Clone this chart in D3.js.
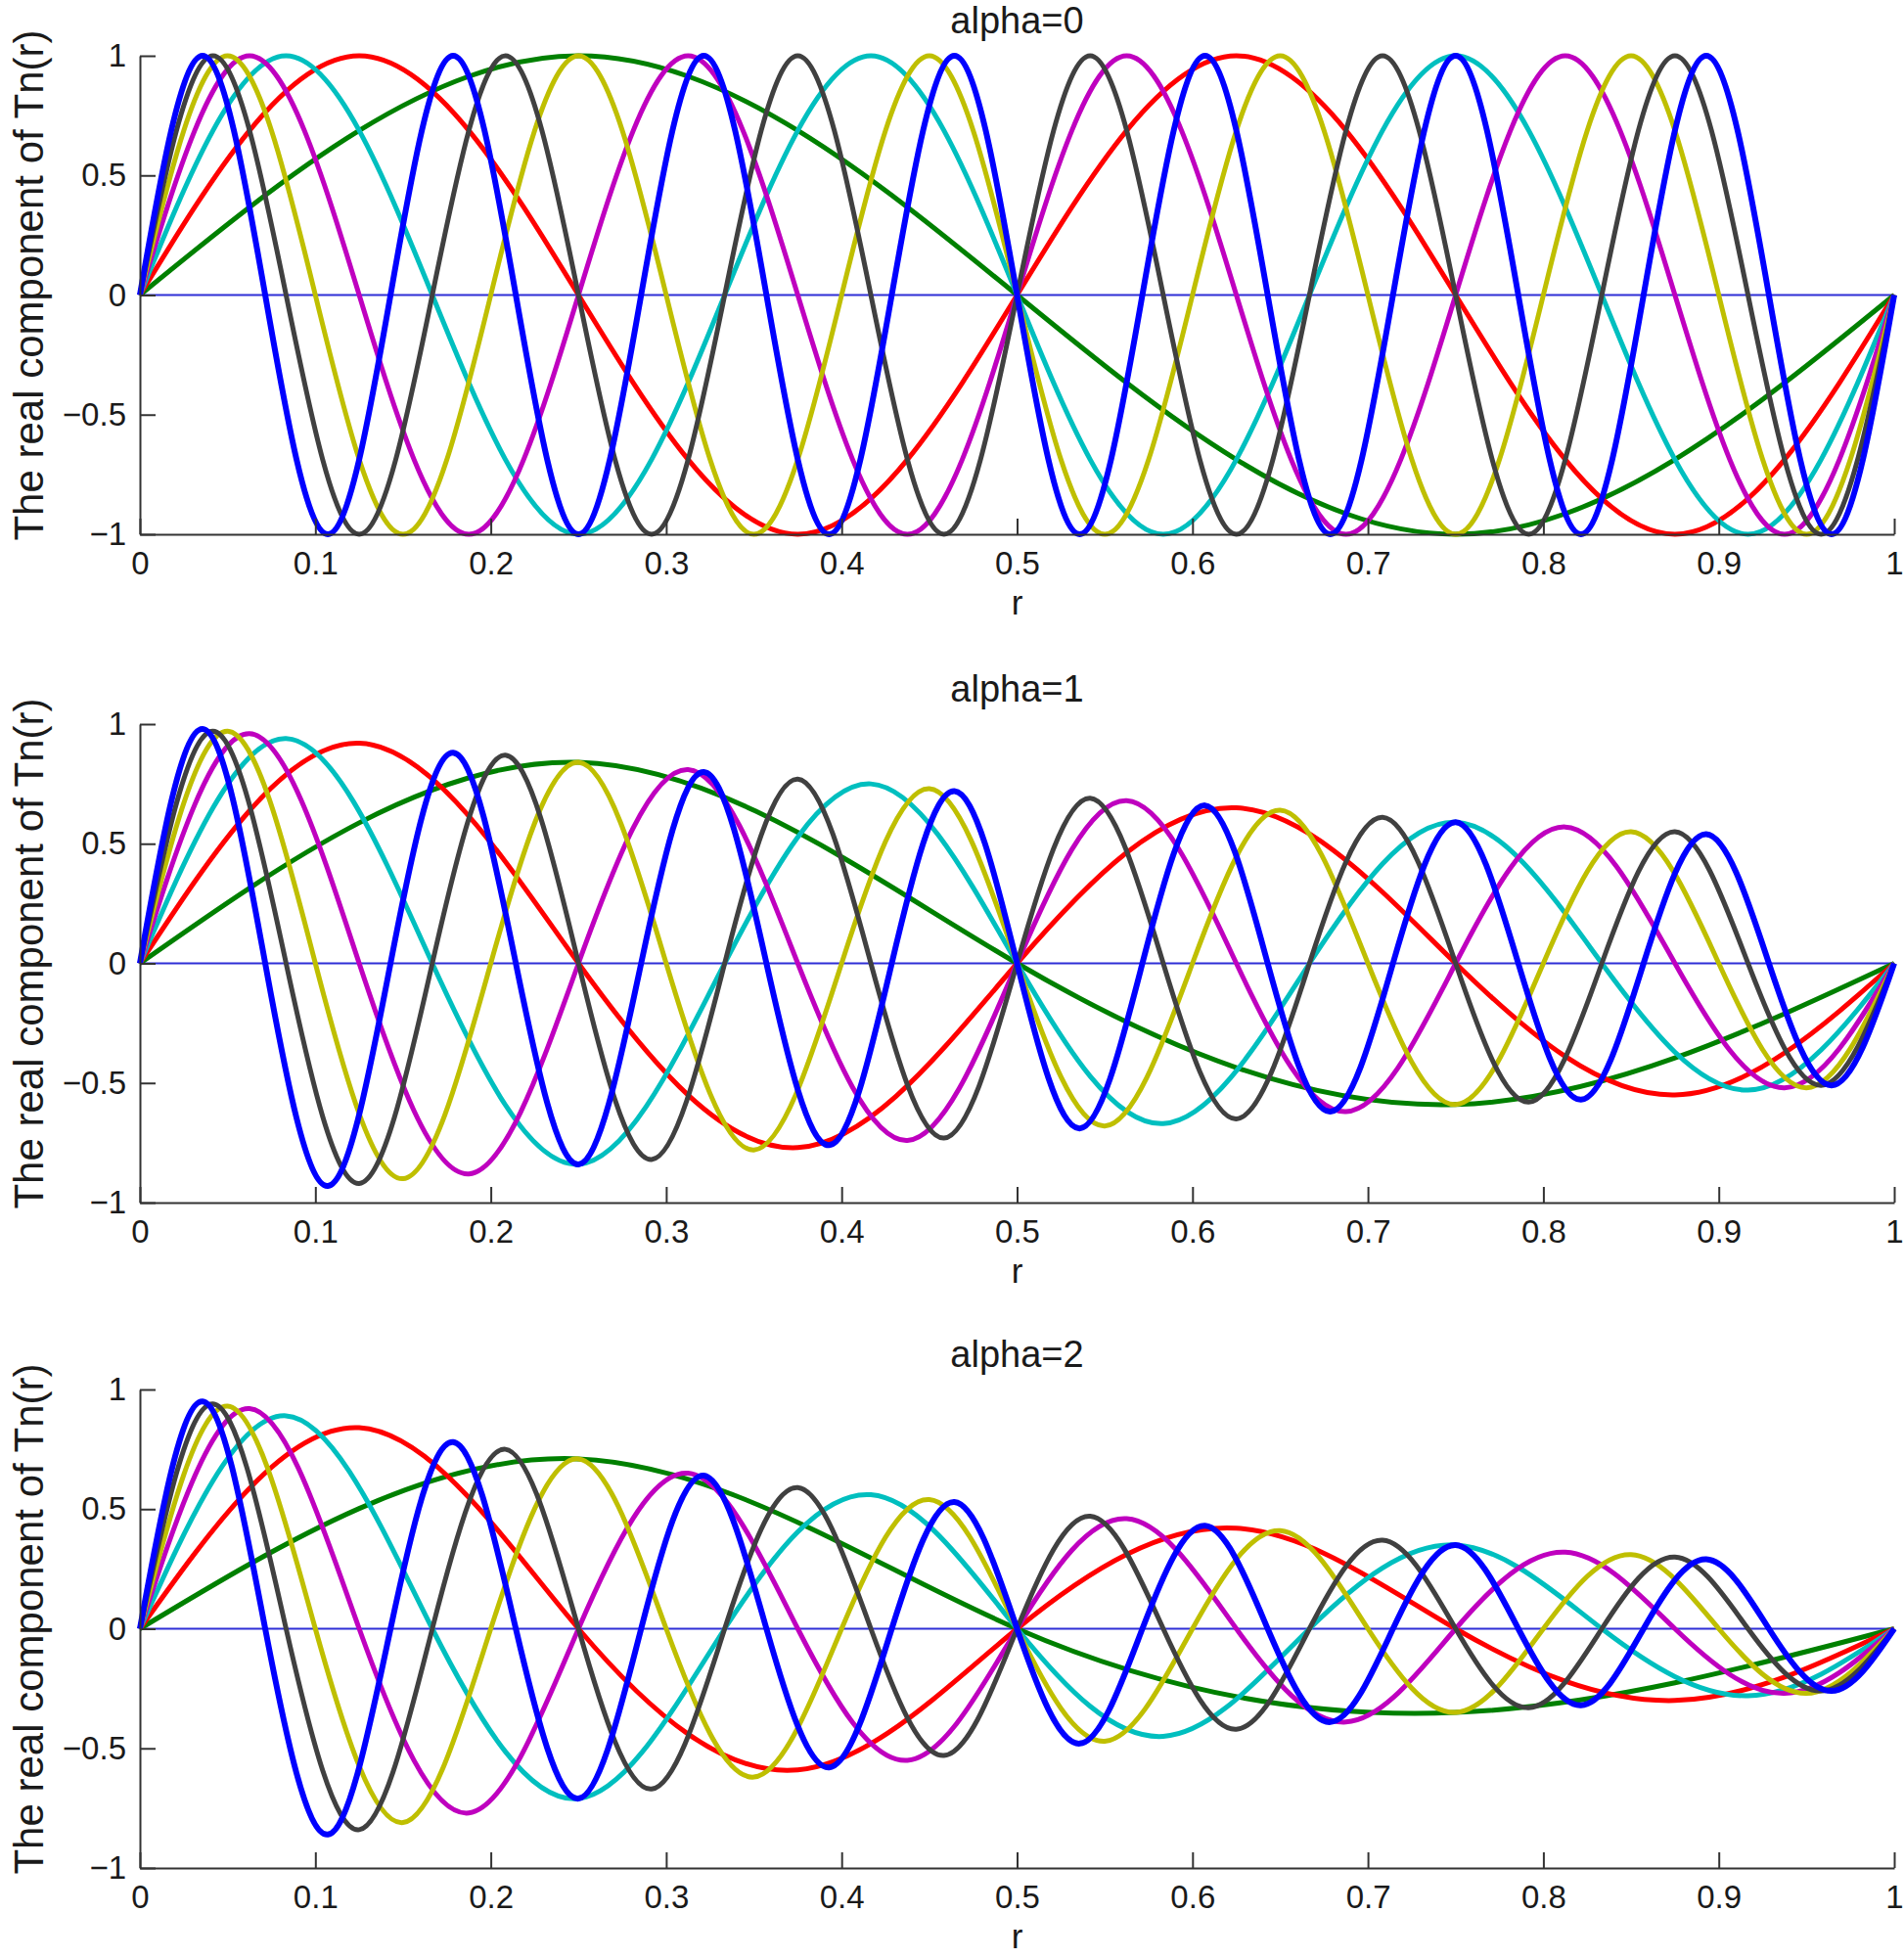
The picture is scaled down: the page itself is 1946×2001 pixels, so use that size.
<!DOCTYPE html>
<html>
<head>
<meta charset="utf-8">
<script src="https://cdn.jsdelivr.net/npm/d3@7"></script>
<style>
  body { margin: 0; background: #fff; }
</style>
</head>
<body>
<div id="chart"></div>
<script>
// titles and ticks
var panelTitles = ["alpha=0", "alpha=1", "alpha=2"];
var xTicks = [0, 0.1, 0.2, 0.3, 0.4, 0.5, 0.6, 0.7, 0.8, 0.9, 1];
var yTicks = [-1, -0.5, 0, 0.5, 1];

// Re{Tn(r)} read at the zero crossings and extrema of each curve,
// i.e. evenly spaced samples r = k/(4n), k = 0..4n
var zeroLine = [0, 0]; // n = 0

// alpha = 0
var a0n1 = [0, 1, 0, -1, 0];
var a0n2 = [0, 1, 0, -1, 0, 1, 0, -1, 0];
var a0n3 = [0, 1, 0, -1, 0, 1, 0, -1, 0, 1, 0, -1, 0];
var a0n4 = [0, 1, 0, -1, 0, 1, 0, -1, 0, 1, 0, -1, 0, 1, 0, -1, 0];
var a0n5 = [0, 1, 0, -1, 0, 1, 0, -1, 0, 1, 0, -1, 0, 1, 0, -1, 0, 1, 0, -1, 0];
var a0n6 = [0, 1, 0, -1, 0, 1, 0, -1, 0, 1, 0, -1, 0, 1, 0, -1, 0, 1, 0, -1, 0, 1, 0, -1, 0];
var a0n7 = [0, 1, 0, -1, 0, 1, 0, -1, 0, 1, 0, -1, 0, 1, 0, -1, 0, 1, 0, -1, 0, 1, 0, -1, 0, 1, 0, -1, 0];

// alpha = 1
var a1n1 = [0, 0.84, 0, -0.59, 0];
var a1n2 = [0, 0.92, 0, -0.77, 0, 0.65, 0, -0.55, 0];
var a1n3 = [0, 0.94, 0, -0.84, 0, 0.75, 0, -0.67, 0, 0.59, 0, -0.53, 0];
var a1n4 = [0, 0.96, 0, -0.88, 0, 0.81, 0, -0.74, 0, 0.68, 0, -0.62, 0, 0.57, 0, -0.52, 0];
var a1n5 = [0, 0.97, 0, -0.9, 0, 0.84, 0, -0.78, 0, 0.73, 0, -0.68, 0, 0.64, 0, -0.59, 0, 0.55, 0, -0.52, 0];
var a1n6 = [0, 0.97, 0, -0.92, 0, 0.87, 0, -0.82, 0, 0.77, 0, -0.73, 0, 0.69, 0, -0.65, 0, 0.61, 0, -0.58, 0, 0.55, 0, -0.51, 0];
var a1n7 = [0, 0.98, 0, -0.93, 0, 0.88, 0, -0.84, 0, 0.8, 0, -0.76, 0, 0.72, 0, -0.69, 0, 0.66, 0, -0.62, 0, 0.59, 0, -0.57, 0, 0.54, 0, -0.51, 0];

// alpha = 2
var a2n1 = [0, 0.71, 0, -0.35, 0];
var a2n2 = [0, 0.84, 0, -0.59, 0, 0.42, 0, -0.3, 0];
var a2n3 = [0, 0.89, 0, -0.71, 0, 0.56, 0, -0.45, 0, 0.35, 0, -0.28, 0];
var a2n4 = [0, 0.92, 0, -0.77, 0, 0.65, 0, -0.55, 0, 0.46, 0, -0.39, 0, 0.32, 0, -0.27, 0];
var a2n5 = [0, 0.93, 0, -0.81, 0, 0.71, 0, -0.62, 0, 0.54, 0, -0.47, 0, 0.41, 0, -0.35, 0, 0.31, 0, -0.27, 0];
var a2n6 = [0, 0.94, 0, -0.84, 0, 0.75, 0, -0.67, 0, 0.59, 0, -0.53, 0, 0.47, 0, -0.42, 0, 0.37, 0, -0.33, 0, 0.3, 0, -0.26, 0];
var a2n7 = [0, 0.95, 0, -0.86, 0, 0.78, 0, -0.71, 0, 0.64, 0, -0.58, 0, 0.53, 0, -0.48, 0, 0.43, 0, -0.39, 0, 0.35, 0, -0.32, 0, 0.29, 0, -0.26, 0];

var panels = [
  [a0n1, a0n2, a0n3, a0n4, a0n5, a0n6, a0n7],
  [a1n1, a1n2, a1n3, a1n4, a1n5, a1n6, a1n7],
  [a2n1, a2n2, a2n3, a2n4, a2n5, a2n6, a2n7]
];

// layout and styles
var W = 1946, H = 2001;
var xLeft = 143, xRight = 1936;
var panelTop = [57, 740, 1420], panelH = 489;
var lineColors = ["#008000", "#ff0000", "#00bfbf", "#bf00bf", "#bfbf00", "#404040", "#0000ff"];
var fontFam = "'Liberation Sans', Arial, Helvetica, sans-serif";
var axisColor = "#333";
var textColor = "#1a1a1a";

var svg = d3.select("#chart")
  .append("svg")
  .attr("width", W)
  .attr("height", H)
  .style("font-family", fontFam);

var x = d3.scaleLinear().domain([0, 1]).range([xLeft, xRight]);

panels.forEach(function (series, pi) {
  var top = panelTop[pi];
  var y = d3.scaleLinear().domain([-1, 1]).range([top + panelH, top]);
  var g = svg.append("g");

  // thin zero line (n = 0)
  var zline = d3.line()
    .x(function (d, i) { return x(i / (zeroLine.length - 1)); })
    .y(function (d) { return y(d); });
  g.append("path")
    .datum(zeroLine)
    .attr("d", zline)
    .attr("fill", "none")
    .attr("stroke", "#2f2fd6")
    .attr("stroke-width", 2);

  // the seven curves
  series.forEach(function (vals, si) {
    var line = d3.line()
      .x(function (d, i) { return x(i / (vals.length - 1)); })
      .y(function (d) { return y(d); })
      .curve(d3.curveNatural);
    g.append("path")
      .datum(vals)
      .attr("d", line)
      .attr("fill", "none")
      .attr("stroke", lineColors[si])
      .attr("stroke-width", si === 6 ? 6 : 5)
      .attr("stroke-linejoin", "round");
  });

  // axes (MATLAB style: left + bottom, ticks pointing in)
  var xAxis = d3.axisBottom(x)
    .tickValues(xTicks)
    .tickSizeInner(-16)
    .tickSizeOuter(0)
    .tickPadding(18)
    .tickFormat(d3.format("~g"));
  var yAxis = d3.axisLeft(y)
    .tickValues(yTicks)
    .tickSizeInner(-16)
    .tickSizeOuter(0)
    .tickPadding(14)
    .tickFormat(d3.format("~g"));

  var gx = g.append("g")
    .attr("transform", "translate(0," + (top + panelH) + ")")
    .call(xAxis);
  var gy = g.append("g")
    .attr("transform", "translate(" + xLeft + ",0)")
    .call(yAxis);

  [gx, gy].forEach(function (ax) {
    ax.attr("font-size", 33).attr("font-family", fontFam);
    ax.select(".domain").attr("stroke", axisColor).attr("stroke-width", 2);
    ax.selectAll(".tick line").attr("stroke", axisColor).attr("stroke-width", 2);
    ax.selectAll(".tick text").attr("fill", textColor);
  });

  // title
  g.append("text")
    .attr("x", (xLeft + xRight) / 2)
    .attr("y", top - 23)
    .attr("text-anchor", "middle")
    .attr("font-size", 38)
    .attr("fill", textColor)
    .text(panelTitles[pi]);

  // x label
  g.append("text")
    .attr("x", (xLeft + xRight) / 2)
    .attr("y", top + panelH + 82)
    .attr("text-anchor", "middle")
    .attr("font-size", 35)
    .attr("fill", textColor)
    .text("r");

  // y label
  g.append("text")
    .attr("transform", "translate(29," + (top + panelH / 2 - 10) + ") rotate(-90)")
    .attr("dy", "0.35em")
    .attr("text-anchor", "middle")
    .attr("font-size", 42)
    .attr("fill", textColor)
    .text("The real component of Tn(r)");
});
</script>
</body>
</html>
